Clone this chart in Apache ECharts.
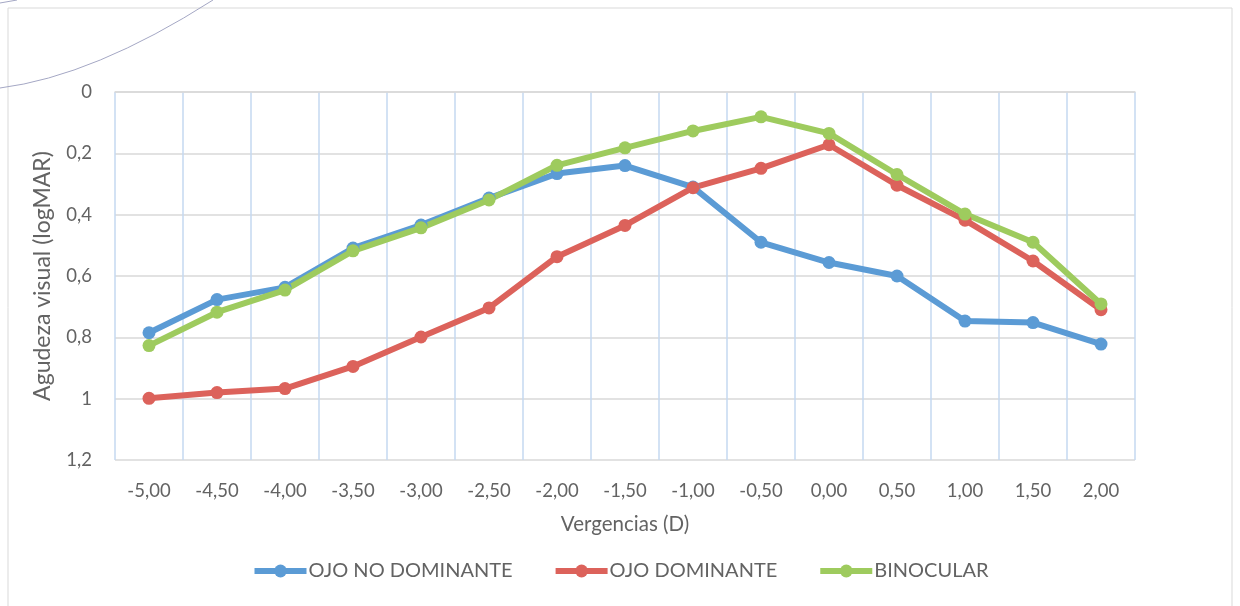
<!DOCTYPE html>
<html>
<head>
<meta charset="utf-8">
<script src="https://cdn.jsdelivr.net/npm/echarts@6/dist/echarts.min.js"></script>
<style>
html,body{margin:0;padding:0;background:#fff;}
#chart{width:1240px;height:606px;}
</style>
</head>
<body>
<div id="chart"></div>
<script>
const categories = ['-5,00','-4,50','-4,00','-3,50','-3,00','-2,50','-2,00','-1,50','-1,00','-0,50','0,00','0,50','1,00','1,50','2,00'];
const ojoNoDominante = [0.785, 0.677, 0.637, 0.509, 0.434, 0.346, 0.266, 0.240, 0.310, 0.490, 0.556, 0.600, 0.747, 0.752, 0.822];
const ojoDominante   = [0.999, 0.980, 0.967, 0.895, 0.799, 0.704, 0.537, 0.435, 0.312, 0.249, 0.172, 0.304, 0.418, 0.551, 0.710];
const binocular      = [0.827, 0.718, 0.646, 0.518, 0.443, 0.352, 0.239, 0.182, 0.127, 0.081, 0.135, 0.269, 0.398, 0.490, 0.691];
const yTicks = { min: 0, max: 1.2, interval: 0.2 };

const FONT = 'Lato';
const TXT = '#636363';
const chart = echarts.init(document.getElementById('chart'));
function mkSeries(name, data, color) {
  return {
    name: name, type: 'line', data: data,
    symbol: 'circle', symbolSize: 13,
    lineStyle: { width: 6, color: color },
    itemStyle: { color: color },
    emphasis: { disabled: true },
    animation: false
  };
}
chart.setOption({
  animation: false,
  textStyle: { fontFamily: FONT },
  grid: { left: 115, right: 105, top: 92, height: 368, containLabel: false },
  graphic: [
    { type: 'rect', shape: { x: 8, y: 8, width: 1224, height: 620 }, style: { fill: 'none', stroke: '#d9d9d9', lineWidth: 1 }, z: -1 },
    { type: 'bezierCurve', shape: { x1: 0, y1: 88, cpx1: 94, cpy1: 76, x2: 213, y2: 0 }, style: { fill: 'none', stroke: '#a4a7c4', lineWidth: 1 } },
    { type: 'line', shape: { x1: 0, y1: 3, x2: 17, y2: 0 }, style: { stroke: '#a4a7c4', lineWidth: 1 } }
  ],
  legend: {
    top: 556, left: 'center',
    itemWidth: 52, itemHeight: 16, itemGap: 40,
    lineStyle: { width: 6 },
    textStyle: { color: TXT, fontSize: 20, fontFamily: FONT, padding: [0, 0, 0, -3] },
    data: ['OJO NO DOMINANTE', 'OJO DOMINANTE', 'BINOCULAR']
  },
  xAxis: {
    type: 'category', data: categories, boundaryGap: true,
    name: 'Vergencias (D)', nameLocation: 'middle', nameGap: 54,
    nameTextStyle: { color: TXT, fontSize: 20.5, fontFamily: FONT },
    axisLine: { show: true, lineStyle: { color: '#d9d9d9', width: 1.5 } },
    axisTick: { show: false },
    axisLabel: { color: TXT, fontSize: 18.5, margin: 22, fontFamily: FONT },
    splitLine: { show: true, lineStyle: { color: '#c5d9f1', width: 1.5 } }
  },
  yAxis: {
    type: 'value', inverse: true,
    min: yTicks.min, max: yTicks.max, interval: yTicks.interval,
    name: 'Agudeza visual (logMAR)', nameLocation: 'middle', nameGap: 61, nameRotate: 90,
    nameTextStyle: { color: TXT, fontSize: 23, fontFamily: FONT },
    axisLine: { show: false }, axisTick: { show: false },
    axisLabel: { color: TXT, fontSize: 18.5, margin: 23, fontFamily: FONT,
      formatter: function (v) { return String(Math.round(v * 10) / 10).replace('.', ','); } },
    splitLine: { show: true, lineStyle: { color: '#d9d9d9', width: 1.5 } }
  },
  series: [
    mkSeries('OJO NO DOMINANTE', ojoNoDominante, '#5b9bd5'),
    mkSeries('OJO DOMINANTE', ojoDominante, '#dc625b'),
    mkSeries('BINOCULAR', binocular, '#9ecb5e')
  ]
});
</script>
</body>
</html>
